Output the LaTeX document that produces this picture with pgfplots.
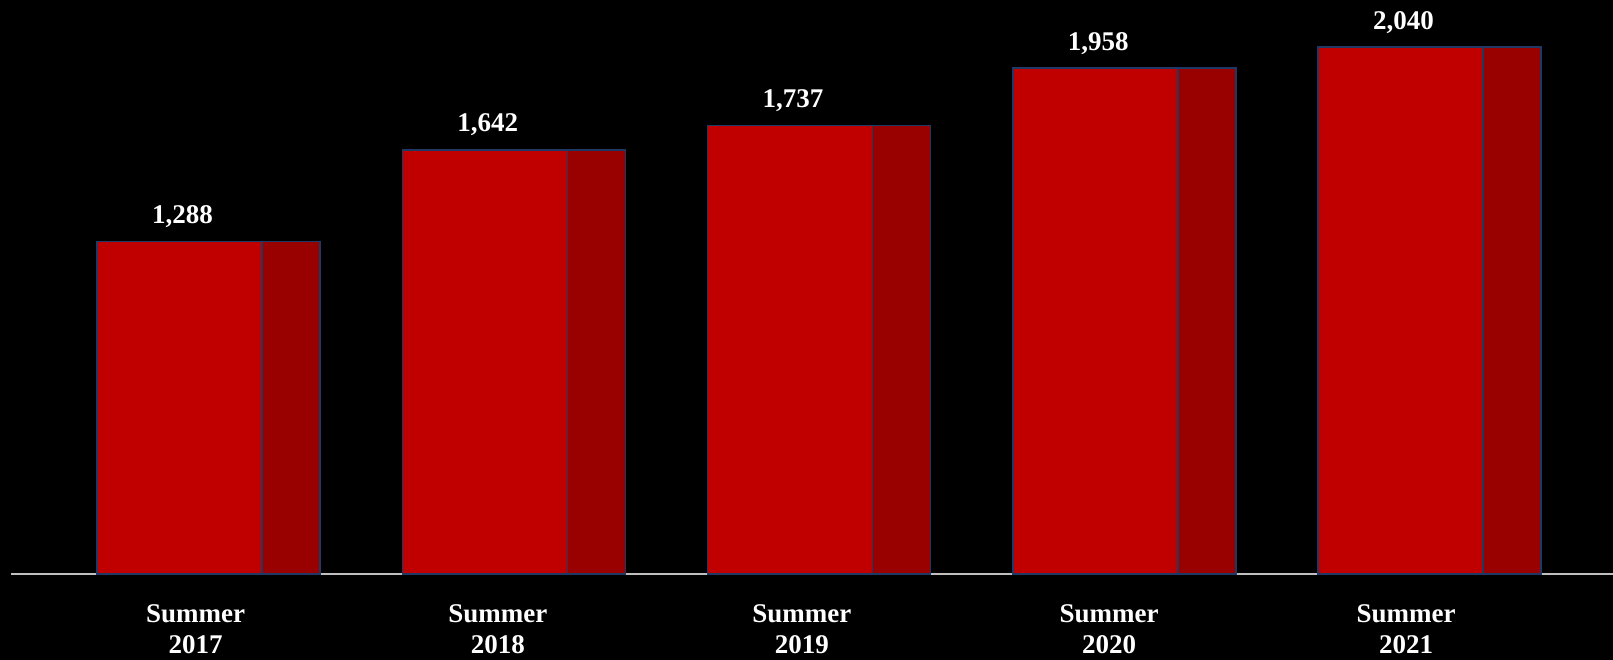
\documentclass[border=0pt]{standalone}
\usepackage{pgfplots}
\pgfplotsset{compat=1.18}
\usepackage{fontspec}
\setmainfont{Liberation Serif}
\definecolor{front}{HTML}{C00000}
\definecolor{side}{HTML}{990000}
\definecolor{edge}{HTML}{203864}
\definecolor{axgray}{HTML}{BFBFBF}
\begin{document}
\begin{tikzpicture}
\fill[black] (-11pt,-86pt) rectangle (1602pt,574pt);
\begin{axis}[
  at={(0,0)}, anchor=south west,
  scale only axis,
  width=1602pt, height=574pt,
  xmin=-0.647, xmax=4.601,
  ymin=0, ymax=2222,
  ybar,
  hide y axis,
  axis x line*=bottom,
  x axis line style={draw=axgray, line width=2pt},
  xtick={-0.0426,0.948,1.944,2.950,3.923},
  xticklabels={{Summer\\2017},{Summer\\2018},{Summer\\2019},{Summer\\2020},{Summer\\2021}},
  major tick length=0pt,
  xticklabel style={align=center, anchor=north, inner sep=0pt, yshift=-30pt,
    text=white, font=\fontsize{27}{31}\selectfont\bfseries},
  clip=false,
]
\addplot[fill=side, draw=edge, line width=1.5pt, bar width=58pt, bar shift=82.5pt]
  coordinates {(0,1288) (1,1642) (2,1737) (3,1958) (4,2040)};
\addplot[fill=front, draw=edge, line width=1.5pt, bar width=165pt, bar shift=-29pt,
  point meta=explicit symbolic,
  nodes near coords,
  every node near coord/.append style={anchor=base, yshift=18pt, xshift=3pt, inner sep=0pt,
    text=white, font=\fontsize{27}{31}\selectfont\bfseries}]
  coordinates {(0,1288)[1,288] (1,1642)[1,642] (2,1737)[1,737] (3,1958)[1,958] (4,2040)[2,040]};
\end{axis}
\pgfresetboundingbox
\useasboundingbox (-11pt,-86pt) rectangle (1602pt,574pt);
\end{tikzpicture}
\end{document}
